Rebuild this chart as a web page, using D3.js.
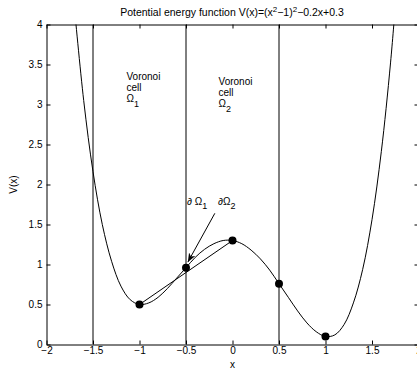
<!DOCTYPE html>
<html>
<head>
<meta charset="utf-8">
<script src="https://cdn.jsdelivr.net/npm/d3@7"></script>
<style>
  body { margin: 0; background: #fff; }
  svg { display: block; font-family: "Liberation Sans", Arial, sans-serif; }
</style>
</head>
<body>
<svg id="chart" width="417" height="373"></svg>
<script>
// curve samples
const curveX = [-1.7, -1.6, -1.5, -1.4, -1.3, -1.2, -1.1, -1.0, -0.9, -0.8, -0.7, -0.6, -0.5, -0.4, -0.3, -0.2, -0.1, 0,
  0.1, 0.2, 0.3, 0.4, 0.5, 0.6, 0.7, 0.8, 0.9, 1.0, 1.1, 1.2, 1.3, 1.4, 1.5, 1.6, 1.7, 1.8];
const curveV = [4.21, 3.05, 2.16, 1.50, 1.04, 0.73, 0.56, 0.50, 0.52, 0.59, 0.70, 0.83, 0.96, 1.09, 1.19, 1.26, 1.30, 1.30,
  1.26, 1.18, 1.07, 0.93, 0.76, 0.59, 0.42, 0.27, 0.16, 0.10, 0.12, 0.25, 0.52, 0.94, 1.56, 2.41, 3.53, 4.96];

// marked points
const pointX = [-1, -0.5, 0, 0.5, 1];
const pointV = [0.5, 0.96, 1.3, 0.76, 0.1];

// cell boundaries
const boundaries = [-1.5, -0.5, 0.5];

// straight chord
const chordX = [-1, 0];
const chordV = [0.5, 1.3];

// arrow from label to boundary point
const arrowX = [-0.19, -0.48];
const arrowV = [1.64, 1.03];

const xTicks = [-2, -1.5, -1, -0.5, 0, 0.5, 1, 1.5, 2];
const yTicks = [0, 0.5, 1, 1.5, 2, 2.5, 3, 3.5, 4];

const svg = d3.select("#chart");

const x = d3.scaleLinear().domain([-2, 2]).range([46.5, 418.5]);
const y = d3.scaleLinear().domain([0, 4]).range([344.5, 24.5]);

const fmt = (d) => String(d).replace("-", "\u2212");

svg.append("defs").append("clipPath").attr("id", "clip")
  .append("rect")
  .attr("x", x(-2)).attr("y", y(4))
  .attr("width", x(2) - x(-2)).attr("height", y(0) - y(4));

svg.append("defs").append("marker")
  .attr("id", "head")
  .attr("viewBox", "0 0 10 10")
  .attr("refX", 10).attr("refY", 5)
  .attr("markerWidth", 9).attr("markerHeight", 9)
  .attr("markerUnits", "userSpaceOnUse")
  .attr("orient", "auto")
  .append("path")
  .attr("d", "M0,1L10,5L0,9L3,5Z")
  .attr("fill", "#000");

// axes (MATLAB box with inward ticks)
const axB = svg.append("g").attr("transform", `translate(0,${y(0)})`)
  .call(d3.axisBottom(x).tickValues(xTicks).tickFormat(fmt).tickSizeInner(-4).tickSizeOuter(0).tickPadding(4));
const axT = svg.append("g").attr("transform", `translate(0,${y(4)})`)
  .call(d3.axisTop(x).tickValues(xTicks).tickFormat("").tickSizeInner(-4).tickSizeOuter(0));
const axL = svg.append("g").attr("transform", `translate(${x(-2)},0)`)
  .call(d3.axisLeft(y).tickValues(yTicks).tickFormat(fmt).tickSizeInner(-4).tickSizeOuter(0).tickPadding(4));
const axR = svg.append("g").attr("transform", `translate(${x(2)},0)`)
  .call(d3.axisRight(y).tickValues(yTicks).tickFormat("").tickSizeInner(-4).tickSizeOuter(0));

[axB, axT, axL, axR].forEach((g) => {
  g.selectAll(".domain").attr("stroke", "#000").attr("stroke-width", 1);
  g.selectAll(".tick line").attr("stroke", "#000");
  g.selectAll("text").attr("font-size", 10).attr("fill", "#000").attr("font-family", "Liberation Sans, Arial, sans-serif");
});
axB.selectAll("text").attr("dy", "0.55em");

const plot = svg.append("g").attr("clip-path", "url(#clip)");

// vertical boundaries
plot.selectAll("line.bound")
  .data(boundaries)
  .enter()
  .append("line")
  .attr("class", "bound")
  .attr("x1", (d) => x(d)).attr("x2", (d) => x(d))
  .attr("y1", y(0)).attr("y2", y(4))
  .attr("stroke", "#000").attr("stroke-width", 1);

// potential curve
const curveData = curveX.map((d, i) => [d, curveV[i]]);
plot.append("path")
  .datum(curveData)
  .attr("fill", "none")
  .attr("stroke", "#000")
  .attr("stroke-width", 1)
  .attr("d", d3.line().x((d) => x(d[0])).y((d) => y(d[1])).curve(d3.curveCatmullRom));

// chord
plot.append("line")
  .attr("x1", x(chordX[0])).attr("y1", y(chordV[0]))
  .attr("x2", x(chordX[1])).attr("y2", y(chordV[1]))
  .attr("stroke", "#000").attr("stroke-width", 1);

// marked points
plot.selectAll("circle")
  .data(pointX.map((d, i) => [d, pointV[i]]))
  .enter()
  .append("circle")
  .attr("cx", (d) => x(d[0]))
  .attr("cy", (d) => y(d[1]))
  .attr("r", 4)
  .attr("fill", "#000");

// arrow
svg.append("line")
  .attr("x1", x(arrowX[0])).attr("y1", y(arrowV[0]))
  .attr("x2", x(arrowX[1])).attr("y2", y(arrowV[1]))
  .attr("stroke", "#000").attr("stroke-width", 1)
  .attr("marker-end", "url(#head)");

// annotations
const addLabel = (px, py, lines) => {
  const t = svg.append("text").attr("font-size", 10).attr("fill", "#000");
  lines.forEach((l, i) => {
    const ts = t.append("tspan").attr("x", px).attr("y", py + i * 11);
    ts.text(l[0]);
    if (l[1]) ts.append("tspan").attr("font-size", 9).attr("dy", 5).text(l[1]);
  });
};
addLabel(x(-1.14), 80, [["Voronoi"], ["cell"], ["\u03A9", "1"]]);
addLabel(x(-0.15), 85, [["Voronoi"], ["cell"], ["\u03A9", "2"]]);

const lab1 = svg.append("text").attr("x", 187).attr("y", 205).attr("font-size", 10);
lab1.append("tspan").text("\u2202 \u03A9");
lab1.append("tspan").attr("font-size", 9).attr("dy", 4).text("1");
const lab2 = svg.append("text").attr("x", 218).attr("y", 205).attr("font-size", 10);
lab2.append("tspan").text("\u2202\u03A9");
lab2.append("tspan").attr("font-size", 9).attr("dy", 4).text("2");

// title
const title = svg.append("text")
  .attr("x", 232).attr("y", 16)
  .attr("text-anchor", "middle")
  .attr("font-size", 10.5);
title.append("tspan").text("Potential energy function V(x)=(x");
title.append("tspan").attr("font-size", 8).attr("dy", -4).text("2");
title.append("tspan").attr("dy", 4).text("\u22121)");
title.append("tspan").attr("font-size", 8).attr("dy", -4).text("2");
title.append("tspan").attr("dy", 4).text("\u22120.2x+0.3");

// axis labels
svg.append("text")
  .attr("x", x(0)).attr("y", 368)
  .attr("text-anchor", "middle")
  .attr("font-size", 10)
  .text("x");
svg.append("text")
  .attr("transform", `translate(17,${y(2)}) rotate(-90)`)
  .attr("text-anchor", "middle")
  .attr("font-size", 10)
  .text("V(x)");
</script>
</body>
</html>
